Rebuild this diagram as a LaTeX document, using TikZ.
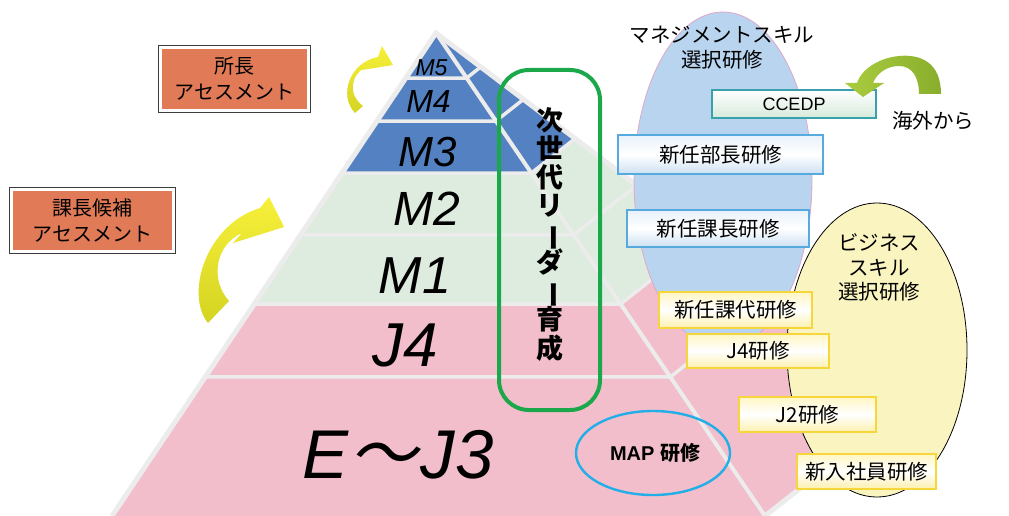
\documentclass[tikz,border=0pt]{standalone}
\usepackage{fontspec}
\usepackage{graphicx}
\setmainfont{Liberation Sans}
\newfontfamily\jp{Noto Sans CJK JP}
\newfontfamily\jpsl[FakeSlant=0.2]{Noto Sans CJK JP}
\usetikzlibrary{calc,shapes.geometric}
\newcommand\vch[1]{\smash{#1}}
\definecolor{pblue}{RGB}{84,129,193}
\definecolor{pgreen}{RGB}{222,235,223}
\definecolor{ppink}{RGB}{243,190,203}
\definecolor{pgray}{RGB}{236,236,236}
\definecolor{orangebox}{RGB}{224,122,87}
\definecolor{framegray}{RGB}{60,60,60}
\definecolor{leadgreen}{RGB}{26,168,74}
\definecolor{ellblue}{RGB}{184,212,238}
\definecolor{ellpinkline}{RGB}{224,168,200}
\definecolor{ellyellow}{RGB}{250,245,192}
\definecolor{mapblue}{RGB}{34,174,230}
\definecolor{bline}{RGB}{86,170,222}
\definecolor{btop}{RGB}{232,241,250}
\definecolor{bbot}{RGB}{205,225,242}
\definecolor{yline}{RGB}{247,214,60}
\definecolor{ytop}{RGB}{255,246,196}
\definecolor{ybot}{RGB}{252,240,175}
\definecolor{cline}{RGB}{58,160,172}
\definecolor{cbot}{RGB}{214,234,218}
\definecolor{arrYa}{RGB}{247,240,58}
\definecolor{arrYb}{RGB}{212,212,34}
\definecolor{arrGa}{RGB}{170,204,62}
\definecolor{arrGb}{RGB}{136,174,44}
\begin{document}
\begin{tikzpicture}[x=1pt,y=-1pt,
  sep/.style={draw=pgray,line width=3.5pt},
  lay/.style={anchor=base,inner sep=0pt,font=\itshape\fontsize{#1}{#1}\selectfont},
  obox/.style={draw=white,line width=2.4pt,fill=orangebox,inner sep=0pt,align=center,
    font=\jp\fontsize{20}{26}\selectfont},
  oframe/.style={draw=framegray,line width=1.2pt},
  bbox/.style={draw=bline,line width=1.3pt,top color=btop,bottom color=bbot,middle color=white,
    inner sep=0pt,font=\jp\fontsize{20.5}{24}\selectfont},
  ybox/.style={draw=yline,line width=1.8pt,top color=ytop,bottom color=ybot,middle color=white,
    inner sep=0pt,font=\jp\fontsize{20.5}{24}\selectfont},
  cbox/.style={draw=cline,line width=1.3pt,top color=white,bottom color=cbot,
    inner sep=0pt,font=\fontsize{18}{20}\selectfont},
  lbl/.style={inner sep=0pt,align=center,font=\jp\fontsize{20.5}{24.5}\selectfont},
]
\useasboundingbox (0,0) rectangle (1009,516);

% ---------- pyramid ----------
\coordinate (A) at (436,33);
\coordinate (L) at (112,516);
\coordinate (R) at (765,516);
\coordinate (B) at (916,397);

\fill[pblue] (A) -- ($(A)!0.2899!(L)$) -- ($(A)!0.2899!(R)$) -- ($(A)!0.2899!(B)$) -- cycle;
\fill[pgreen] ($(A)!0.2899!(L)$) -- ($(A)!0.2899!(R)$) -- ($(A)!0.2899!(B)$)
   -- ($(A)!0.5611!(B)$) -- ($(A)!0.5611!(R)$) -- ($(A)!0.5611!(L)$) -- cycle;
\fill[ppink] ($(A)!0.5611!(L)$) -- ($(A)!0.5611!(R)$) -- ($(A)!0.5611!(B)$)
   -- (B) -- (R) -- (L) -- cycle;

\foreach \f in {0.0932,0.1822,0.2899,0.4182,0.5611,0.7122}
  \draw[sep] ($(A)!\f!(L)$) -- ($(A)!\f!(R)$) -- ($(A)!\f!(B)$);
\draw[sep,line width=4pt] (A) -- (R);
\draw[sep,line width=5pt,line join=miter] (R) -- (B) -- (A) -- (L);

% ---------- layer labels ----------
\node[lay=23] (m5) at (431.5,76) {M5};
\node[lay=32] (m4) at (428.5,113) {M4};
\node[lay=42] (m3) at (428,167) {M3};
\node[lay=48] (m2) at (426.5,225) {M2};
\node[lay=52] (m1) at (415,293) {M1};
\node[lay=62] (j4) at (405,366) {J4};
\node[lay=69] (ej) at (398,478) {E\kern1pt{\jpsl ～}\kern2pt J3};

% ---------- next generation leaders ----------
\node[draw=leadgreen,line width=4pt,rounded corners=30pt,minimum width=101pt,
  minimum height=340pt,inner sep=0pt] (lead) at (549.5,240) {};
\node[inner sep=0pt,font=\jp\bfseries\fontsize{27}{28.5}\selectfont] (vt) at (549.5,238.6)
 {\begin{tabular}{@{}c@{}}\vch{次}\\\vch{世}\\\vch{代}\\\vch{リ}\\\vch{\rotatebox[origin=c]{-90}{ー}}\\\vch{ダ}\\\vch{\rotatebox[origin=c]{-90}{ー}}\\\vch{育}\\\vch{成}\end{tabular}};

% ---------- ellipses ----------
\node[ellipse,draw=ellpinkline,line width=0.8pt,fill=ellblue,minimum width=178pt,
  minimum height=336pt,inner sep=0pt] (mgmt) at (723,180) {};
\node[ellipse,draw=black,line width=0.8pt,fill=ellyellow,minimum width=180pt,
  minimum height=294pt,inner sep=0pt] (biz) at (877,350) {};

\node[lbl] (mgmtt) at (722,47.5) {マネジメントスキル\\選択研修};
\node[lbl] (bizt) at (879,267.5) {ビジネス\\スキル\\選択研修};

% ---------- course boxes ----------
\node[cbox,minimum width=164pt,minimum height=28pt] (ccedp) at (794,104) {CCEDP};
\node[bbox,minimum width=205pt,minimum height=39pt] (bucho) at (720.5,154.5) {新任部長研修};
\node[bbox,minimum width=182pt,minimum height=37pt] (kacho) at (718,228.5) {新任課長研修};
\node[ybox,minimum width=153pt,minimum height=36pt] (kadai) at (735.5,310) {新任課代研修};
\node[ybox,minimum width=142pt,minimum height=34pt] (jfour) at (758,351) {J4研修};
\node[ybox,minimum width=137pt,minimum height=35pt] (jtwo) at (807.5,414.5) {J2研修};
\node[ybox,minimum width=139pt,minimum height=35pt] (shinnyu) at (866.5,471.5) {新入社員研修};

\node[ellipse,draw=mapblue,line width=2.4pt,minimum width=154pt,minimum height=84pt,
  inner sep=0pt] (map) at (653,453) {};
\node[inner sep=0pt,font=\bfseries\fontsize{20}{24}\selectfont] (mapt) at (655,453) {MAP {\jp 研修}};

% ---------- from overseas ----------
\shade[left color=arrGa,right color=arrGb]
  (941,94) .. controls (941,62) and (920,54) .. (899,56)
  .. controls (878,58) and (861,70) .. (857,83) -- (845,83) -- (863,97) -- (884,83) -- (873,83)
  .. controls (877,73) and (887,66) .. (899,66)
  .. controls (912,66) and (919,77) .. (919,94) -- cycle;
\node[lbl] (kaigai) at (933,121) {海外から};

% ---------- assessments ----------
\node[obox,minimum width=148.2pt,minimum height=63.2pt] (sa) at (234.5,79) {所長\\アセスメント};
\draw[oframe] ([shift={(-0.6pt,0.6pt)}]sa.north west) rectangle ([shift={(0.6pt,-0.6pt)}]sa.south east);
\node[obox,minimum width=162.2pt,minimum height=62.2pt] (ka) at (92.5,220.5) {課長候補\\アセスメント};
\draw[oframe] ([shift={(-0.6pt,0.6pt)}]ka.north west) rectangle ([shift={(0.6pt,-0.6pt)}]ka.south east);

% ---------- yellow curved arrows ----------
\shade[top color=arrYa,bottom color=arrYb]
  (355,113) .. controls (338,95) and (350,62) .. (378,57) -- (382,46) -- (393,65) -- (362,70)
  -- (366,67) .. controls (350,75) and (348,95) .. (363,106) -- cycle;
\shade[top color=arrYa,bottom color=arrYb]
  (208,323) .. controls (185,295) and (205,225) .. (260,208) -- (269,197) -- (284,227) -- (233,243)
  -- (242,233) .. controls (215,245) and (210,280) .. (229,301) -- cycle;
\end{tikzpicture}
\end{document}
